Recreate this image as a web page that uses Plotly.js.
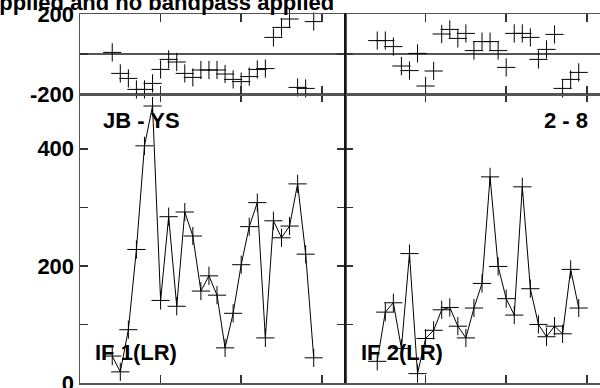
<!DOCTYPE html>
<html>
<head>
<meta charset="utf-8">
<script src="https://cdn.plot.ly/plotly-3.0.1.min.js"></script>
<style>html,body{margin:0;padding:0;overflow:hidden;background:#fff}#chart{width:600px;height:388px}</style>
</head>
<body>
<div id="chart"></div>
<script>
// time stamps (same for both IFs)
const times = [4, 5, 6, 7, 8, 9, 10, 11, 12, 13, 14, 15, 16, 17, 18, 19, 20, 21, 22, 23, 24, 25, 26, 27, 28, 29];
// IF 1 (LR)
const phaseIF1 = [8, -97, -122, -177, -177, -147, -77, -27, -40, -97, -117, -80, -80, -80, -100, -127, -138, -113, -77, -73, 83, 133, 175, -167, -172, 162];
const ampIF1 = [46, 19, 91, 228, 405, 473, 141, 284, 131, 292, 251, 157, 183, 150, 60, 119, 202, 267, 308, 77, 277, 248, 268, 340, 220, 43];
// IF 2 (LR)
const phaseIF2 = [67, 67, 37, -60, -83, 3, -160, -85, 100, 123, 78, 103, 17, 62, 62, 17, -67, 103, 103, 83, -27, 23, 98, -172, -127, -92];
const ampIF2 = [37, 121, 137, 59, 221, 16, 76, 90, 125, 129, 97, 77, 128, 170, 352, 199, 144, 116, 335, 161, 100, 79, 97, 84, 194, 128];
// labels
const titleText = "Calibration applied and no bandpass applied";
const baselineLabel = "JB - YS";
const scanLabel = "2 - 8";
const ifLabels = ["IF 1(LR)", "IF 2(LR)"];
const ampTickVals = [0, 100, 200, 300, 400];
const ampTickText = ["0", "", "200", "", "400"];
const phaseTickVals = [-200, 0, 200];
const phaseTickText = ["-200", "", "200"];
const timeTickVals = [10, 20, 30];

const FONT = {family: "Liberation Sans, Arial, Helvetica, sans-serif", size: 22, color: "#000", weight: 700};
const mk = {symbol: "cross-thin-open", size: 13, color: "#000", line: {width: 1, color: "#000"}};

const traces = [
  {x: times, y: ampIF1, xaxis: "x", yaxis: "y", mode: "lines+markers", line: {color: "#000", width: 1}, marker: mk, cliponaxis: false},
  {x: times, y: phaseIF1, xaxis: "x2", yaxis: "y2", mode: "markers", marker: mk, cliponaxis: false},
  {x: times, y: ampIF2, xaxis: "x3", yaxis: "y3", mode: "lines+markers", line: {color: "#000", width: 1}, marker: mk, cliponaxis: false},
  {x: times, y: phaseIF2, xaxis: "x4", yaxis: "y4", mode: "markers", marker: mk, cliponaxis: false}
];

const split = 265 / 520;
const ampTop = 289 / 369;
const common = {showline: true, linecolor: "#555", linewidth: 1.5, ticks: "inside", ticklen: 8, tickwidth: 1.5, tickcolor: "#333", showgrid: false, zeroline: false, tickfont: FONT, fixedrange: true, ticklabeloverflow: "allow"};

function xax(dom, range, anchor) {
  return Object.assign({}, common, {domain: dom, range: range, anchor: anchor, mirror: "ticks", tickvals: timeTickVals, showticklabels: false});
}

const layout = {
  width: 600, height: 388,
  margin: {l: 80, r: 0, t: 14, b: 5},
  paper_bgcolor: "#fff", plot_bgcolor: "#fff",
  showlegend: false,
  font: FONT,
  xaxis: xax([0, split], [0, 32.88], "y"),
  xaxis2: xax([0, split], [0, 32.88], "y2"),
  xaxis3: xax([split, 1], [0, 31.64], "y3"),
  xaxis4: xax([split, 1], [0, 31.64], "y4"),
  yaxis: Object.assign({}, common, {domain: [0, ampTop], range: [0, 493.5], anchor: "x", mirror: "ticks", tickvals: ampTickVals, ticktext: ampTickText}),
  yaxis2: Object.assign({}, common, {domain: [ampTop, 1], range: [-200, 200], anchor: "x2", mirror: "ticks", tickvals: phaseTickVals, ticktext: phaseTickText, zeroline: true, zerolinecolor: "#555", zerolinewidth: 1.5}),
  yaxis3: Object.assign({}, common, {domain: [0, ampTop], range: [0, 493.5], anchor: "x3", mirror: false, tickvals: ampTickVals, showticklabels: false}),
  yaxis4: Object.assign({}, common, {domain: [ampTop, 1], range: [-200, 200], anchor: "x4", mirror: false, tickvals: phaseTickVals, showticklabels: false, zeroline: true, zerolinecolor: "#555", zerolinewidth: 1.5}),
  shapes: [
    {type: "line", xref: "paper", yref: "paper", x0: split, x1: split, y0: 0, y1: 1.003, line: {color: "#000", width: 1.5}}
  ],
  annotations: [
    {text: titleText, xref: "paper", yref: "paper", x: (336 - 80) / 520, y: (383 - 2) / 369, xanchor: "right", yanchor: "middle", showarrow: false, font: FONT},
    {text: baselineLabel, xref: "paper", yref: "paper", x: (101 - 80) / 520, y: (383 - 120) / 369, xanchor: "left", yanchor: "middle", showarrow: false, font: FONT},
    {text: scanLabel, xref: "paper", yref: "paper", x: (590 - 80) / 520, y: (383 - 120) / 369, xanchor: "right", yanchor: "middle", showarrow: false, font: FONT},
    {text: ifLabels[0], xref: "paper", yref: "paper", x: (93 - 80) / 520, y: (383 - 352) / 369, xanchor: "left", yanchor: "middle", showarrow: false, font: FONT},
    {text: ifLabels[1], xref: "paper", yref: "paper", x: (359 - 80) / 520, y: (383 - 352) / 369, xanchor: "left", yanchor: "middle", showarrow: false, font: FONT}
  ]
};

Plotly.newPlot("chart", traces, layout, {staticPlot: true, displayModeBar: false});
</script>
</body>
</html>
